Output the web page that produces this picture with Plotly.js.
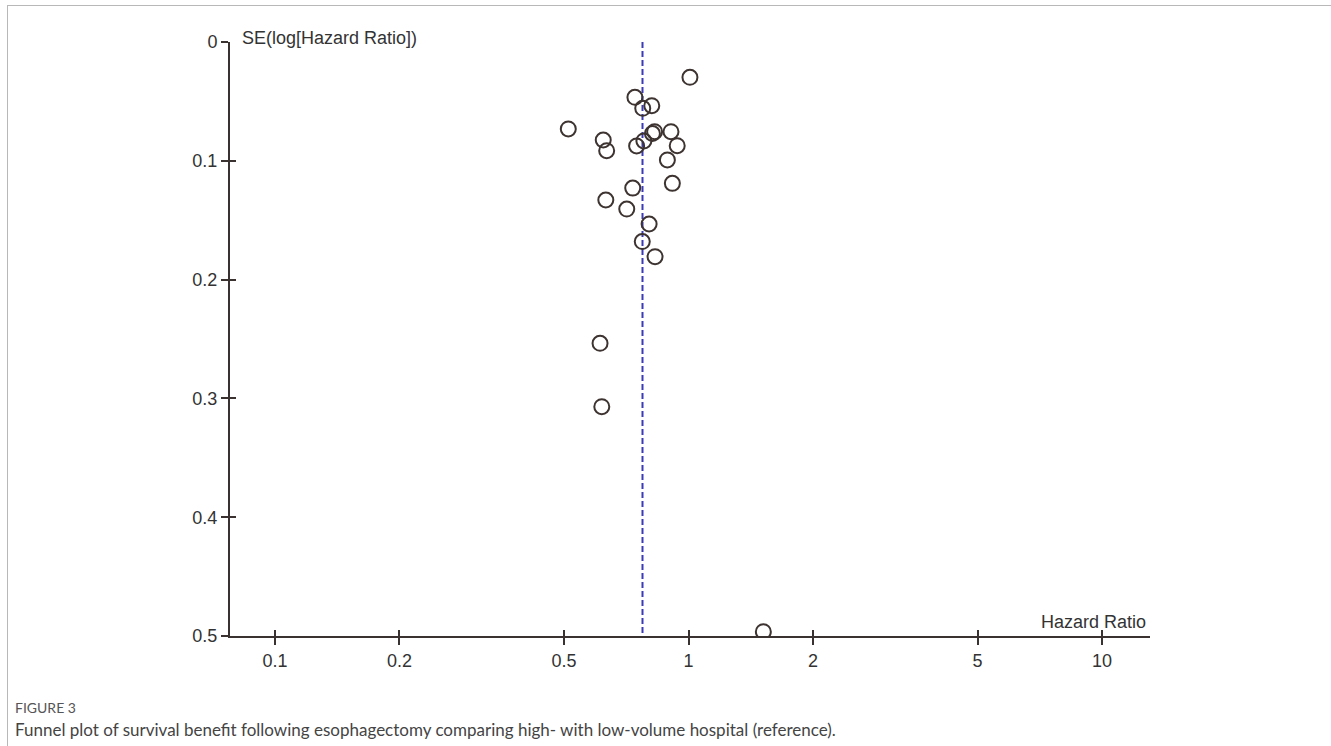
<!DOCTYPE html>
<html>
<head>
<meta charset="utf-8">
<script src="https://cdn.plot.ly/plotly-3.0.1.min.js"></script>
<style>
  html, body { margin: 0; padding: 0; background: #fff; }
  #wrap { position: relative; width: 1331px; height: 746px; }
  #frame { position: absolute; left: 7px; top: 5px; right: 0; bottom: 0;
           border-top: 1px solid #b8b8b8; border-left: 1px solid #b8b8b8; pointer-events: none; }
  #chart { position: absolute; left: 0; top: 0; width: 1331px; height: 746px; }
</style>
</head>
<body>
<div id="wrap">
  <div id="chart"></div>
  <div id="frame"></div>
</div>
<script>
// Study estimates
const hazardRatio = [1.008, 0.742, 0.775, 0.815, 0.512, 0.622, 0.634, 0.749, 0.780, 0.818, 0.828,
                     0.907, 0.939, 0.889, 0.914, 0.733, 0.631, 0.709, 0.803, 0.773, 0.830,
                     0.611, 0.617, 1.517];
const seLogHR =     [0.0297, 0.0466, 0.0558, 0.0536, 0.0732, 0.0825, 0.0915, 0.0875, 0.0833, 0.0770, 0.0755,
                     0.0755, 0.0873, 0.0993, 0.1190, 0.1230, 0.1330, 0.1406, 0.1532, 0.1680, 0.1807,
                     0.2536, 0.3070, 0.4964];
const pooledHR = 0.774;
const seRange = [0, 0.5];
const xTickVals = [0.1, 0.2, 0.5, 1, 2, 5, 10];
const xTickText = ['0.1', '0.2', '0.5', '1', '2', '5', '10'];
const yTickVals = [0, 0.1, 0.2, 0.3, 0.4, 0.5];
const yTickText = ['0', '0.1', '0.2', '0.3', '0.4', '0.5'];

const axisColor = '#3a3230';
const textColor = '#333333';
const xLogRange = [-1.1088, 1.116];

const traces = [
  {
    x: [pooledHR, pooledHR], y: seRange, mode: 'lines', type: 'scatter',
    line: { color: '#3b3bb8', width: 2, dash: '6px,3px' },
    hoverinfo: 'skip', showlegend: false
  },
  {
    x: hazardRatio, y: seLogHR, mode: 'markers', type: 'scatter',
    marker: { symbol: 'circle-open', size: 15, color: '#3d3431', line: { width: 2, color: '#3d3431' } },
    showlegend: false
  },
  {
    x: [1], y: [0.25], xaxis: 'x2', yaxis: 'y2', mode: 'markers', type: 'scatter',
    marker: { opacity: 0 }, hoverinfo: 'skip', showlegend: false
  }
];

const tickFont = { family: 'Liberation Sans, Arial, sans-serif', size: 18, color: textColor };

const layout = {
  width: 1331, height: 746,
  margin: { l: 230, r: 181, t: 42, b: 110 },
  paper_bgcolor: '#ffffff', plot_bgcolor: '#ffffff',
  showlegend: false,
  xaxis: {
    type: 'log', range: xLogRange,
    tickvals: xTickVals, ticktext: xTickText,
    ticks: 'outside', ticklen: 7, tickwidth: 2, tickcolor: axisColor,
    showline: true, linecolor: axisColor, linewidth: 2,
    showgrid: false, zeroline: false,
    tickfont: tickFont, anchor: 'y'
  },
  yaxis: {
    range: [0.5, 0],
    tickvals: yTickVals, ticktext: yTickText,
    ticks: 'outside', ticklen: 7, tickwidth: 2, tickcolor: axisColor,
    showline: true, linecolor: axisColor, linewidth: 2,
    showgrid: false, zeroline: false,
    tickfont: tickFont, anchor: 'x'
  },
  xaxis2: {
    type: 'log', range: xLogRange, overlaying: 'x', anchor: 'y2', side: 'bottom',
    tickvals: xTickVals, ticks: 'inside', ticklen: 6, tickwidth: 2, tickcolor: axisColor,
    showticklabels: false, showline: false, showgrid: false, zeroline: false
  },
  yaxis2: {
    range: [0.5, 0], overlaying: 'y', anchor: 'x2', side: 'left',
    tickvals: yTickVals, ticks: 'inside', ticklen: 6, tickwidth: 2, tickcolor: axisColor,
    showticklabels: false, showline: false, showgrid: false, zeroline: false
  },
  annotations: [
    {
      text: 'SE(log[Hazard Ratio])', xref: 'paper', yref: 'paper',
      x: 0.0109, y: 1.006, xanchor: 'left', yanchor: 'middle', showarrow: false,
      font: { family: 'Liberation Sans, Arial, sans-serif', size: 18, color: textColor }
    },
    {
      text: 'Hazard Ratio', xref: 'paper', yref: 'paper',
      x: 0.9978, y: 0.003, xanchor: 'right', yanchor: 'bottom', showarrow: false,
      font: { family: 'Liberation Sans, Arial, sans-serif', size: 18, color: textColor }
    },
    {
      text: 'FIGURE 3', xref: 'paper', yref: 'paper',
      x: -0.236, y: -0.121, xanchor: 'left', yanchor: 'middle', showarrow: false,
      font: { family: 'Lato, Noto Sans, sans-serif', size: 14, color: '#555555' }
    },
    {
      text: 'Funnel plot of survival benefit following esophagectomy comparing high- with low-volume hospital (reference).',
      xref: 'paper', yref: 'paper',
      x: -0.236, y: -0.157, xanchor: 'left', yanchor: 'middle', showarrow: false,
      font: { family: 'Lato, Noto Sans, sans-serif', size: 17, color: '#444444' }
    }
  ]
};

Plotly.newPlot('chart', traces, layout, { displayModeBar: false, staticPlot: true });
</script>
</body>
</html>
